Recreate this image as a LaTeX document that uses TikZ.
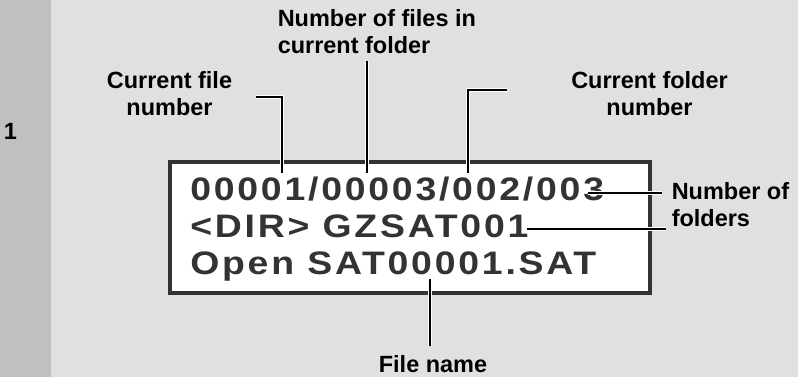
\documentclass[tikz,border=0pt]{standalone}
\usepackage{fontspec}
\setmainfont{Liberation Sans}
\newfontfamily\mylabfam{Liberation Sans Bold}
\newfontfamily\mylcdfam[FakeStretch=1.15,LetterSpace=8.5]{Liberation Sans Bold}
\newcommand\mylabfont{\mylabfam\fontsize{17.6}{20}\selectfont}
\newcommand\mylcdfont{\mylcdfam\fontsize{24.4}{27.5}\selectfont}
\definecolor{bgmain}{HTML}{E0E0E0}
\definecolor{bgstrip}{HTML}{C0C0C0}
\definecolor{lcdgray}{HTML}{333333}
\begin{document}
\begin{tikzpicture}[x=0.75pt,y=-0.75pt,
  lab/.style={font=\mylabfont, inner sep=0pt, text=black},
  lcd/.style={font=\mylcdfont, inner sep=0pt, text=lcdgray, anchor=base west},
  leader/.style={line width=1.5pt, draw=black, preaction={draw=white, line width=3pt}},
]
\useasboundingbox (0,0) rectangle (798,377);
\fill[bgmain] (0,0) rectangle (798,377);
\fill[bgstrip] (0,0) rectangle (51,377);
\node[lab] (num) at (10.5,131) {1};
% display box
\draw[line width=3pt, draw=lcdgray, fill=white] (169.5,162) rectangle (650,292.5);
\node[lcd] (l1) at (190,201) {00001/00003/002/003};
\node[lcd] (l2) at (190,238) {<DIR> GZSAT001};
\node[lcd] (l3) at (190,274) {Open SAT00001.SAT};
% labels
\node[lab, align=center, anchor=north] (lfile) at (169.5,71.5) {Current file\\number};
\node[lab, align=left, anchor=north west] (lcount) at (277.5,9.5) {Number of files in\\current folder};
\node[lab, align=center, anchor=north] (lfolder) at (649.5,71.5) {Current folder\\number};
\node[lab, align=left, anchor=north west] (lnfold) at (671.5,182.5) {Number of\\folders};
\node[lab, anchor=base] (lname) at (433,372) {File name};
% leader coordinates
\coordinate (a1) at (256,97);  \coordinate (b1) at (282,173);
\coordinate (a2) at (367,61);  \coordinate (b2) at (367,173);
\coordinate (a3) at (507,90);  \coordinate (b3) at (468,173);
\coordinate (a4) at (662,193); \coordinate (b4) at (588,193);
\coordinate (a5) at (666,229); \coordinate (b5) at (527,229);
\coordinate (a6) at (430,346); \coordinate (b6) at (430,279);
\draw[leader] (a1) -| (b1);
\draw[leader] (a2) -- (b2);
\draw[leader] (a3) -| (b3);
\draw[leader] (a4) -- (b4);
\draw[leader] (a5) -- (b5);
\draw[leader] (a6) -- (b6);
\end{tikzpicture}
\end{document}
